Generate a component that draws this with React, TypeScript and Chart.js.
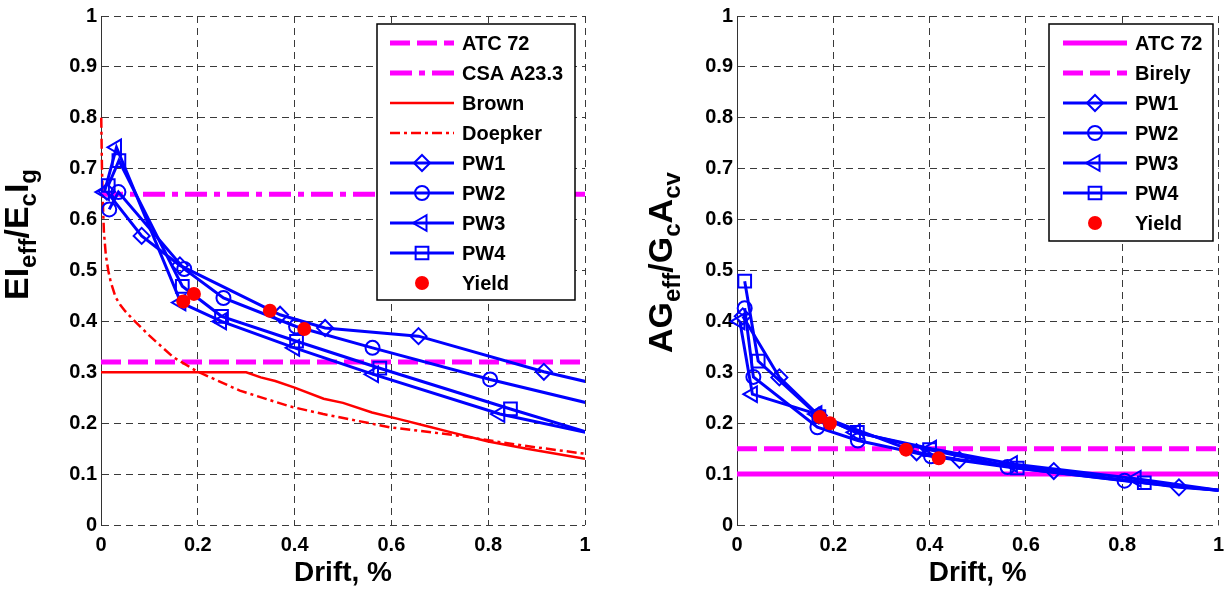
import React, { useEffect, useRef } from 'react';
import { Chart, registerables } from 'chart.js';

Chart.register(...registerables);

const FONT = "'Liberation Sans', Arial, Helvetica, sans-serif";
const BLUE = '#0000FF';
const RED = '#FF0000';
const MAGENTA = '#FF00FF';
const GRID = '#3a3a3a';

// ---------- ticks ----------
const driftTicks = [0, 0.2, 0.4, 0.6, 0.8, 1];
const ratioTicks = [0, 0.1, 0.2, 0.3, 0.4, 0.5, 0.6, 0.7, 0.8, 0.9, 1];

// ---------- left panel: EIeff / EcIg ----------
const atc72DriftL = [0, 1];
const atc72EI = [0.32, 0.32];
const csaDrift = [0, 1];
const csaEI = [0.65, 0.65];

const brownDrift = [0, 0.3, 0.33, 0.36, 0.4, 0.46, 0.5, 0.56, 0.62, 0.67, 0.72, 0.8, 0.88, 1.0];
const brownEI = [0.3, 0.3, 0.29, 0.283, 0.27, 0.248, 0.24, 0.221, 0.207, 0.195, 0.183, 0.164, 0.15, 0.13];

const doepkerDrift = [0.0005, 0.002, 0.004, 0.006, 0.01, 0.015, 0.02, 0.03, 0.04, 0.05, 0.067, 0.1, 0.149, 0.198, 0.287, 0.39, 0.459, 0.597, 0.735, 0.872, 1.0];
const doepkerEI = [0.8, 0.7, 0.63, 0.576, 0.53, 0.5, 0.478, 0.448, 0.432, 0.42, 0.403, 0.372, 0.33, 0.302, 0.264, 0.233, 0.218, 0.192, 0.176, 0.156, 0.14];

const pw1DriftL = [0.012, 0.084, 0.163, 0.37, 0.463, 0.656, 0.915, 1.1];
const pw1EI = [0.655, 0.568, 0.51, 0.413, 0.387, 0.371, 0.301, 0.26];
const pw2DriftL = [0.017, 0.036, 0.172, 0.253, 0.403, 0.561, 0.804, 1.1];
const pw2EI = [0.62, 0.654, 0.503, 0.446, 0.39, 0.348, 0.286, 0.218];
const pw3DriftL = [0.007, 0.032, 0.165, 0.249, 0.4, 0.563, 0.824, 1.1];
const pw3EI = [0.654, 0.742, 0.437, 0.4, 0.348, 0.296, 0.218, 0.162];
const pw4DriftL = [0.015, 0.037, 0.168, 0.249, 0.404, 0.576, 0.846, 1.1];
const pw4EI = [0.667, 0.716, 0.469, 0.41, 0.361, 0.308, 0.228, 0.155];

const yieldDriftL = [0.17, 0.192, 0.349, 0.42];
const yieldEI = [0.439, 0.454, 0.421, 0.385];

// ---------- right panel: AGeff / GcAcv ----------
const atc72DriftR = [0, 1];
const atc72AG = [0.1, 0.1];
const birelyDrift = [0, 1];
const birelyAG = [0.15, 0.15];

const pw1DriftR = [0.012, 0.088, 0.17, 0.373, 0.462, 0.658, 0.918, 1.1];
const pw1AG = [0.41, 0.29, 0.215, 0.143, 0.128, 0.106, 0.074, 0.061];
const pw2DriftR = [0.016, 0.034, 0.167, 0.251, 0.403, 0.562, 0.805, 1.1];
const pw2AG = [0.426, 0.291, 0.192, 0.166, 0.135, 0.114, 0.087, 0.058];
const pw3DriftR = [0.006, 0.032, 0.166, 0.246, 0.404, 0.572, 0.829, 1.1];
const pw3AG = [0.4, 0.257, 0.218, 0.182, 0.15, 0.12, 0.091, 0.055];
const pw4DriftR = [0.016, 0.044, 0.17, 0.25, 0.4, 0.582, 0.846, 1.1];
const pw4AG = [0.479, 0.322, 0.213, 0.182, 0.148, 0.112, 0.083, 0.059];

const yieldDriftR = [0.172, 0.193, 0.351, 0.419];
const yieldAG = [0.212, 0.2, 0.148, 0.131];

// ---------- helpers ----------
const pts = (xs: number[], ys: number[]) => xs.map((x, i) => ({ x, y: ys[i] }));
const CLIP = { left: 14, top: 14, bottom: 14, right: 0 };
const fmt = (v: number) => String(Math.round(v * 10) / 10);

type Marker = 'circle' | 'rectRot' | 'triLeft' | 'rect';

const lineSeries = (label: string, xs: number[], ys: number[], color: string, width: number, dash: number[]) => ({
  label,
  data: pts(xs, ys),
  borderColor: color,
  borderWidth: width,
  borderDash: dash,
  pointRadius: 0,
  pointHoverRadius: 0,
  fill: false,
  tension: 0,
  clip: CLIP,
});

const markerSeries = (label: string, xs: number[], ys: number[], marker: Marker, r: number) => ({
  label,
  data: pts(xs, ys),
  borderColor: BLUE,
  borderWidth: 3,
  pointStyle: marker === 'triLeft' ? 'triangle' : marker,
  pointRotation: marker === 'triLeft' ? -90 : 0,
  pointRadius: r,
  pointHoverRadius: r,
  pointBorderWidth: 2,
  pointBorderColor: BLUE,
  pointBackgroundColor: 'rgba(0,0,0,0)',
  fill: false,
  tension: 0,
  clip: CLIP,
});

const yieldSeries = (xs: number[], ys: number[]) => ({
  label: 'Yield',
  data: pts(xs, ys),
  showLine: false,
  borderColor: RED,
  backgroundColor: RED,
  pointStyle: 'circle',
  pointRadius: 7,
  pointHoverRadius: 7,
  pointBorderWidth: 0,
  pointBackgroundColor: RED,
  clip: CLIP,
});

function drawMarker(ctx: CanvasRenderingContext2D, m: Marker, x: number, y: number, r: number) {
  ctx.beginPath();
  if (m === 'circle') ctx.arc(x, y, r, 0, Math.PI * 2);
  else if (m === 'rectRot') {
    ctx.moveTo(x, y - r); ctx.lineTo(x + r, y); ctx.lineTo(x, y + r); ctx.lineTo(x - r, y); ctx.closePath();
  } else if (m === 'triLeft') {
    ctx.moveTo(x - r, y); ctx.lineTo(x + 0.5 * r, y - 0.866 * r); ctx.lineTo(x + 0.5 * r, y + 0.866 * r); ctx.closePath();
  } else {
    const s = r * Math.SQRT1_2;
    ctx.rect(x - s, y - s, 2 * s, 2 * s);
  }
  ctx.stroke();
}

type LegendItem = { label: string; color: string; width?: number; dash?: number[]; marker?: Marker; r?: number; dot?: boolean };
type LegendBox = { x: number; y: number; w: number; h: number; firstY: number; rowH: number; lineX1: number; lineX2: number; textX: number };

function legendPlugin(id: string, box: LegendBox, items: LegendItem[]) {
  return {
    id,
    afterDraw(chart: any) {
      const ctx: CanvasRenderingContext2D = chart.ctx;
      ctx.save();
      ctx.setLineDash([]);
      ctx.fillStyle = '#ffffff';
      ctx.fillRect(box.x, box.y, box.w, box.h);
      ctx.strokeStyle = '#000';
      ctx.lineWidth = 1.5;
      ctx.strokeRect(box.x, box.y, box.w, box.h);
      items.forEach((it, i) => {
        const y = box.firstY + i * box.rowH;
        const cx = (box.lineX1 + box.lineX2) / 2;
        if (!it.dot) {
          ctx.beginPath();
          ctx.strokeStyle = it.color;
          ctx.lineWidth = it.width || 2;
          ctx.setLineDash(it.dash || []);
          ctx.moveTo(box.lineX1, y);
          ctx.lineTo(box.lineX2, y);
          ctx.stroke();
          ctx.setLineDash([]);
        }
        if (it.marker) {
          ctx.strokeStyle = it.color;
          ctx.lineWidth = 2;
          drawMarker(ctx, it.marker, cx, y, it.r || 7);
        }
        if (it.dot) {
          ctx.fillStyle = it.color;
          ctx.beginPath();
          ctx.arc(cx, y, it.r || 7, 0, Math.PI * 2);
          ctx.fill();
        }
        ctx.fillStyle = '#000';
        ctx.font = `bold 20px ${FONT}`;
        ctx.textBaseline = 'middle';
        ctx.textAlign = 'left';
        ctx.fillText(it.label, box.textX, y + 1);
      });
      ctx.restore();
    },
  };
}

function yTitlePlugin(id: string, x: number, y: number, parts: [string, boolean][]) {
  return {
    id,
    afterDraw(chart: any) {
      const ctx: CanvasRenderingContext2D = chart.ctx;
      ctx.save();
      ctx.translate(x, y);
      ctx.rotate(-Math.PI / 2);
      ctx.fillStyle = '#000';
      ctx.textBaseline = 'alphabetic';
      ctx.textAlign = 'left';
      let pos = 0;
      for (const [t, sub] of parts) {
        ctx.font = `bold ${sub ? 24 : 34}px ${FONT}`;
        ctx.fillText(t, pos, sub ? 8 : 0);
        pos += ctx.measureText(t).width;
      }
      ctx.restore();
    },
  };
}

function makeConfig(datasets: any[], yWidth: number, padRight: number, plugins: any[]) {
  const n = datasets.length;
  datasets.forEach((d, i) => { d.order = n - i; });
  const tickFont = { family: FONT, size: 20, weight: 'bold' as const };
  return {
    type: 'line' as const,
    data: { datasets },
    plugins,
    options: {
      responsive: false,
      animation: false as const,
      devicePixelRatio: 1,
      events: [] as any[],
      layout: { padding: { top: 13, right: padRight, bottom: 0, left: 0 } },
      plugins: { legend: { display: false }, tooltip: { enabled: false }, title: { display: false } },
      scales: {
        x: {
          type: 'linear' as const,
          min: 0,
          max: 1,
          afterBuildTicks: (s: any) => { s.ticks = driftTicks.map((v) => ({ value: v })); },
          ticks: { font: tickFont, color: '#000', padding: 8, maxRotation: 0, autoSkip: false, callback: (v: any) => fmt(Number(v)) },
          grid: { color: GRID, lineWidth: 1, drawTicks: false },
          border: { display: false, dash: [7, 5] },
          title: {
            display: true,
            text: 'Drift, %',
            color: '#000',
            font: { family: FONT, size: 28, weight: 'bold' as const },
            padding: { top: 0, bottom: 2 },
          },
          afterFit: (s: any) => { s.height = 67; },
        },
        y: {
          type: 'linear' as const,
          min: 0,
          max: 1,
          afterBuildTicks: (s: any) => { s.ticks = ratioTicks.map((v) => ({ value: v })); },
          ticks: { font: tickFont, color: '#000', padding: 4, callback: (v: any) => fmt(Number(v)) },
          grid: { color: GRID, lineWidth: 1, drawTicks: false },
          border: { display: true, color: '#333', width: 1, dash: [7, 5] },
          afterFit: (s: any) => { s.width = yWidth; },
        },
      },
    },
  };
}

export default function App() {
  const leftRef = useRef<HTMLCanvasElement | null>(null);
  const rightRef = useRef<HTMLCanvasElement | null>(null);

  useEffect(() => {
    document.body.style.margin = '0';

    const leftDatasets = [
      lineSeries('ATC 72', atc72DriftL, atc72EI, MAGENTA, 5, [20, 7]),
      lineSeries('CSA A23.3', csaDrift, csaEI, MAGENTA, 5, [22, 7, 6, 7]),
      lineSeries('Brown', brownDrift, brownEI, RED, 2.5, []),
      lineSeries('Doepker', doepkerDrift, doepkerEI, RED, 2.5, [10, 4, 3, 4]),
      markerSeries('PW1', pw1DriftL, pw1EI, 'rectRot', 8),
      markerSeries('PW2', pw2DriftL, pw2EI, 'circle', 7),
      markerSeries('PW3', pw3DriftL, pw3EI, 'triLeft', 9),
      markerSeries('PW4', pw4DriftL, pw4EI, 'rect', 9),
      yieldSeries(yieldDriftL, yieldEI),
    ];
    const leftLegend: LegendItem[] = [
      { label: 'ATC 72', color: MAGENTA, width: 5, dash: [20, 7] },
      { label: 'CSA A23.3', color: MAGENTA, width: 5, dash: [22, 7, 6, 7] },
      { label: 'Brown', color: RED, width: 2.5 },
      { label: 'Doepker', color: RED, width: 2.5, dash: [10, 4, 3, 4] },
      { label: 'PW1', color: BLUE, width: 3, marker: 'rectRot', r: 8 },
      { label: 'PW2', color: BLUE, width: 3, marker: 'circle', r: 7 },
      { label: 'PW3', color: BLUE, width: 3, marker: 'triLeft', r: 9 },
      { label: 'PW4', color: BLUE, width: 3, marker: 'rect', r: 9 },
      { label: 'Yield', color: RED, dot: true, r: 7 },
    ];

    const rightDatasets = [
      lineSeries('ATC 72', atc72DriftR, atc72AG, MAGENTA, 5, []),
      lineSeries('Birely', birelyDrift, birelyAG, MAGENTA, 5, [20, 7]),
      markerSeries('PW1', pw1DriftR, pw1AG, 'rectRot', 8),
      markerSeries('PW2', pw2DriftR, pw2AG, 'circle', 7),
      markerSeries('PW3', pw3DriftR, pw3AG, 'triLeft', 9),
      markerSeries('PW4', pw4DriftR, pw4AG, 'rect', 9),
      yieldSeries(yieldDriftR, yieldAG),
    ];
    const rightLegend: LegendItem[] = [
      { label: 'ATC 72', color: MAGENTA, width: 5 },
      { label: 'Birely', color: MAGENTA, width: 5, dash: [20, 7] },
      { label: 'PW1', color: BLUE, width: 3, marker: 'rectRot', r: 8 },
      { label: 'PW2', color: BLUE, width: 3, marker: 'circle', r: 7 },
      { label: 'PW3', color: BLUE, width: 3, marker: 'triLeft', r: 9 },
      { label: 'PW4', color: BLUE, width: 3, marker: 'rect', r: 9 },
      { label: 'Yield', color: RED, dot: true, r: 7 },
    ];

    const leftChart = new Chart(
      leftRef.current as HTMLCanvasElement,
      makeConfig(leftDatasets, 101, 31, [
        legendPlugin('legendL', { x: 377, y: 24, w: 198, h: 276, firstY: 43, rowH: 30, lineX1: 390, lineX2: 454, textX: 462 }, leftLegend),
        yTitlePlugin('ytitleL', 28, 300, [['EI', false], ['eff', true], ['/E', false], ['c', true], ['I', false], ['g', true]]),
      ]) as any
    );
    const rightChart = new Chart(
      rightRef.current as HTMLCanvasElement,
      makeConfig(rightDatasets, 121, 9, [
        legendPlugin('legendR', { x: 433, y: 24, w: 164, h: 217, firstY: 43, rowH: 30, lineX1: 447, lineX2: 511, textX: 519 }, rightLegend),
        yTitlePlugin('ytitleR', 56, 353, [['AG', false], ['eff', true], ['/G', false], ['c', true], ['A', false], ['cv', true]]),
      ]) as any
    );

    return () => {
      leftChart.destroy();
      rightChart.destroy();
    };
  }, []);

  return (
    <div style={{ position: 'absolute', left: 0, top: 0, width: 1232, height: 592, background: '#fff', overflow: 'hidden' }}>
      <canvas ref={leftRef} width={616} height={592} style={{ position: 'absolute', left: 0, top: 0 }} />
      <canvas ref={rightRef} width={616} height={592} style={{ position: 'absolute', left: 616, top: 0 }} />
    </div>
  );
}
